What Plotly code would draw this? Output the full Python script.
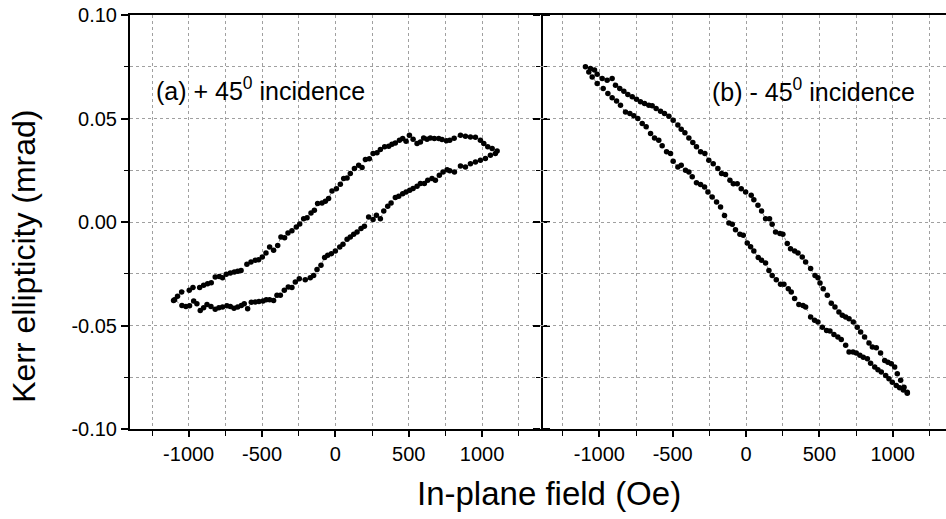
import plotly.graph_objects as go

# ---------------- data ----------------
# Panel (a): +45 deg incidence, upper branch (left -> right)
field_a_upper = [-1103, -1076, -1048, -996, -971, -925, -898, -871, -846, -819, -791, -769,
                 -744, -716, -689, -666, -643, -603, -575, -546, -523, -498, -473, -448,
                 -421, -393, -371, -346, -323, -296, -266, -243, -216, -193, -166, -143,
                 -121, -91, -68, -46, -23, 7, 34, 57, 80, 102, 130, 159, 182, 205, 232,
                 257, 284, 307, 336, 364, 386, 409, 437, 459, 482, 505, 530, 557, 580,
                 602, 625, 648, 675, 705, 727, 757, 780, 810, 853, 887, 921, 955, 989,
                 1012, 1039, 1069, 1103]
kerr_a_upper = [-0.0379, -0.0359, -0.0338, -0.0330, -0.0317, -0.0317, -0.0306, -0.0298,
                -0.0293, -0.0266, -0.0263, -0.0269, -0.0253, -0.0246, -0.0242, -0.0238,
                -0.0234, -0.0204, -0.0193, -0.0185, -0.0182, -0.0169, -0.0150, -0.0121,
                -0.0137, -0.0113, -0.0072, -0.0076, -0.0053, -0.0042, -0.0024, -0.0010,
                0.0016, 0.0021, 0.0044, 0.0057, 0.0089, 0.0092, 0.0100, 0.0113, 0.0150,
                0.0161, 0.0182, 0.0210, 0.0213, 0.0234, 0.0258, 0.0274, 0.0263, 0.0302,
                0.0306, 0.0331, 0.0334, 0.0350, 0.0363, 0.0366, 0.0376, 0.0382, 0.0395,
                0.0403, 0.0390, 0.0419, 0.0400, 0.0379, 0.0387, 0.0406, 0.0400, 0.0406,
                0.0403, 0.0403, 0.0398, 0.0392, 0.0395, 0.0405, 0.0419, 0.0414, 0.0411,
                0.0410, 0.0395, 0.0379, 0.0363, 0.0355, 0.0343]
# Panel (a): lower branch (right -> left)
field_a_lower = [1091, 1057, 1023, 989, 955, 921, 887, 853, 812, 780, 762, 734, 709, 682,
                 659, 630, 607, 580, 557, 530, 507, 482, 459, 432, 409, 380, 357, 330,
                 307, 280, 257, 227, 198, 175, 148, 125, 102, 80, 52, 30, 0, -27, -52,
                 -73, -98, -125, -148, -171, -205, -246, -273, -296, -321, -348, -375,
                 -398, -421, -448, -471, -493, -521, -546, -573, -598, -621, -641, -666,
                 -691, -716, -739, -769, -794, -819, -848, -875, -898, -921, -944, -966,
                 -994, -1019, -1046, -1096]
kerr_a_lower = [0.0331, 0.0323, 0.0307, 0.0298, 0.0290, 0.0282, 0.0266, 0.0271, 0.0242,
                0.0247, 0.0253, 0.0242, 0.0226, 0.0202, 0.0210, 0.0202, 0.0186, 0.0186,
                0.0173, 0.0162, 0.0153, 0.0145, 0.0137, 0.0124, 0.0118, 0.0092, 0.0076,
                0.0053, 0.0016, 0.0033, 0.0012, 0.0024, -0.0021, -0.0032, -0.0048,
                -0.0059, -0.0072, -0.0083, -0.0108, -0.0121, -0.0140, -0.0153, -0.0161,
                -0.0172, -0.0209, -0.0229, -0.0258, -0.0269, -0.0279, -0.0274, -0.0290,
                -0.0317, -0.0314, -0.0330, -0.0354, -0.0354, -0.0379, -0.0375, -0.0375,
                -0.0382, -0.0384, -0.0387, -0.0388, -0.0419, -0.0395, -0.0403, -0.0411,
                -0.0417, -0.0408, -0.0404, -0.0411, -0.0414, -0.0421, -0.0408, -0.0398,
                -0.0414, -0.0427, -0.0395, -0.0382, -0.0404, -0.0408, -0.0403, -0.0375]

# Panel (b): -45 deg incidence, upper branch (left -> right)
field_b_upper = [-1095, -1061, -1033, -1015, -981, -947, -913, -890, -861, -833, -806, -776,
                 -747, -720, -692, -663, -640, -613, -583, -556, -526, -497, -465, -442,
                 -417, -390, -363, -338, -310, -281, -254, -224, -192, -167, -140, -110,
                 -87, -60, -33, -3, 35, 53, 81, 106, 133, 160, 178, 201, 231, 251, 281,
                 303, 331, 354, 383, 406, 440, 470, 490, 504, 526, 554, 581, 606, 633,
                 656, 679, 702, 731, 758, 781, 808, 838, 861, 888, 917, 945, 967, 990,
                 1013, 1031, 1054, 1077, 1099]
kerr_b_upper = [0.0750, 0.0742, 0.0734, 0.0714, 0.0693, 0.0685, 0.0693, 0.0661, 0.0645,
                0.0632, 0.0616, 0.0605, 0.0593, 0.0581, 0.0573, 0.0564, 0.0561, 0.0548,
                0.0535, 0.0524, 0.0511, 0.0492, 0.0468, 0.0448, 0.0431, 0.0406, 0.0384,
                0.0363, 0.0339, 0.0331, 0.0298, 0.0282, 0.0258, 0.0234, 0.0229, 0.0202,
                0.0185, 0.0185, 0.0161, 0.0145, 0.0129, 0.0108, 0.0081, 0.0053, 0.0016,
                0.0016, -0.0011, -0.0048, -0.0056, -0.0059, -0.0104, -0.0129, -0.0140,
                -0.0150, -0.0169, -0.0193, -0.0225, -0.0258, -0.0269, -0.0295, -0.0322,
                -0.0354, -0.0392, -0.0411, -0.0435, -0.0451, -0.0459, -0.0467, -0.0483,
                -0.0508, -0.0532, -0.0556, -0.0585, -0.0604, -0.0608, -0.0633, -0.0669,
                -0.0677, -0.0685, -0.0701, -0.0733, -0.0765, -0.0798, -0.0822]
# Panel (b): lower branch (right -> left)
field_b_lower = [1099, 1072, 1047, 1024, 997, 974, 952, 922, 899, 877, 849, 827, 799, 776,
                 751, 729, 702, 679, 649, 626, 599, 572, 549, 520, 490, 467, 440, 406,
                 388, 360, 331, 308, 288, 258, 235, 206, 178, 156, 133, 106, 83, 53, 31,
                 8, -19, -42, -72, -94, -117, -147, -174, -201, -231, -260, -283, -310,
                 -338, -367, -390, -413, -442, -465, -497, -515, -542, -572, -595, -624,
                 -651, -681, -708, -738, -765, -792, -822, -856, -883, -913, -942, -974,
                 -1015, -1049, -1072]
kerr_b_lower = [-0.0827, -0.0811, -0.0801, -0.0790, -0.0774, -0.0757, -0.0741, -0.0725,
                -0.0714, -0.0701, -0.0682, -0.0661, -0.0653, -0.0644, -0.0633, -0.0628,
                -0.0628, -0.0596, -0.0568, -0.0556, -0.0543, -0.0527, -0.0524, -0.0508,
                -0.0483, -0.0475, -0.0459, -0.0411, -0.0403, -0.0398, -0.0370, -0.0338,
                -0.0322, -0.0301, -0.0301, -0.0279, -0.0258, -0.0234, -0.0198, -0.0185,
                -0.0172, -0.0140, -0.0120, -0.0101, -0.0064, -0.0059, -0.0037, -0.0011,
                -0.0005, 0.0032, 0.0073, 0.0097, 0.0121, 0.0145, 0.0169, 0.0181, 0.0190,
                0.0218, 0.0242, 0.0250, 0.0274, 0.0266, 0.0293, 0.0331, 0.0339, 0.0368,
                0.0395, 0.0406, 0.0427, 0.0460, 0.0476, 0.0500, 0.0513, 0.0524, 0.0532,
                0.0564, 0.0584, 0.0600, 0.0621, 0.0645, 0.0669, 0.0701, 0.0725]

x_tickvals = [-1000, -500, 0, 500, 1000]
x_ticktext = ["-1000", "-500", "0", "500", "1000"]
y_tickvals = [-0.10, -0.05, 0.0, 0.05, 0.10]
y_ticktext = ["-0.10", "-0.05", "0.00", "0.05", "0.10"]

x_title = "In-plane field (Oe)"
y_title = "Kerr ellipticity (mrad)"
label_a = "(a) + 45<sup>0</sup> incidence"
label_b = "(b) - 45<sup>0</sup> incidence"

# ---------------- figure ----------------
FONT = "Liberation Sans, Arial, Helvetica, sans-serif"
GRID = "#a0a0a0"

marker = dict(color="black", size=5.5)
line = dict(color="#333333", width=0.6, dash="dot")

fig = go.Figure()
fig.add_trace(go.Scatter(x=field_a_upper + field_a_lower, y=kerr_a_upper + kerr_a_lower,
                         mode="lines+markers", marker=marker, line=line,
                         xaxis="x", yaxis="y", showlegend=False))
fig.add_trace(go.Scatter(x=field_b_upper + field_b_lower, y=kerr_b_upper + kerr_b_lower,
                         mode="lines+markers", marker=marker, line=line,
                         xaxis="x2", yaxis="y2", showlegend=False))

split = 410.7 / 816

common_x = dict(
    tickmode="array", tickvals=x_tickvals, ticktext=x_ticktext,
    ticks="outside", ticklen=6, tickwidth=1.5, tickcolor="black",
    showline=True, linecolor="black", linewidth=2, mirror=True,
    showgrid=True, gridcolor=GRID, gridwidth=1, griddash="dot",
    zeroline=False, automargin=False,
    tickfont=dict(family=FONT, size=20, color="black"),
    minor=dict(tickmode="linear", tick0=0, dtick=250, ticks="outside", ticklen=5,
               tickwidth=1.2, tickcolor="black", showgrid=True, gridcolor=GRID,
               gridwidth=1, griddash="dot"),
)
common_y = dict(
    range=[-0.10, 0.10],
    tickmode="array", tickvals=y_tickvals, ticktext=y_ticktext,
    ticks="outside", ticklen=7, tickwidth=1.5, tickcolor="black",
    linecolor="black", linewidth=2,
    showgrid=True, gridcolor=GRID, gridwidth=1, griddash="dot",
    zeroline=False, automargin=False,
    tickfont=dict(family=FONT, size=20, color="black"),
    minor=dict(tickmode="linear", tick0=0, dtick=0.025, ticks="outside", ticklen=4,
               tickwidth=1.2, tickcolor="black", showgrid=True, gridcolor=GRID,
               gridwidth=1, griddash="dot"),
)

fig.update_layout(
    width=946, height=519,
    margin=dict(l=130, r=0, t=15, b=90, autoexpand=False),
    paper_bgcolor="white", plot_bgcolor="white",
    font=dict(family=FONT, color="black"),
    xaxis=dict(common_x, domain=[0, split], range=[-1400, 1400], anchor="y"),
    xaxis2=dict(common_x, domain=[split, 1], range=[-1400, 1363], anchor="y2"),
    yaxis=dict(common_y, anchor="x", showline=True, mirror="ticks"),
    yaxis2=dict(common_y, anchor="x2", showline=False, showticklabels=False, mirror=False),
    annotations=[
        dict(text=label_a, xref="paper", yref="paper", x=0.029, y=0.821,
             xanchor="left", yanchor="middle", showarrow=False,
             font=dict(family=FONT, size=25, color="black")),
        dict(text=label_b, xref="paper", yref="paper", x=0.711, y=0.819,
             xanchor="left", yanchor="middle", showarrow=False,
             font=dict(family=FONT, size=25, color="black")),
        dict(text=x_title, xref="paper", yref="paper", x=0.5129, y=-0.157,
             xanchor="center", yanchor="middle", showarrow=False,
             font=dict(family=FONT, size=33, color="black")),
        dict(text=y_title, xref="paper", yref="paper", x=-0.130, y=0.418,
             xanchor="center", yanchor="middle", showarrow=False, textangle=-90,
             font=dict(family=FONT, size=32, color="black")),
    ],
)

fig.write_html("out.html",
               config={"displayModeBar": False},
               post_script="document.body.style.margin='0px';document.body.style.overflow='hidden';")
